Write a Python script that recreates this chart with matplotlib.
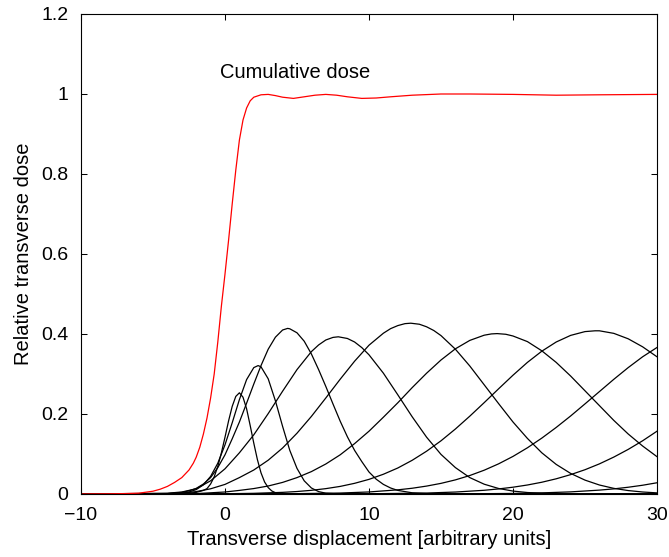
import matplotlib
matplotlib.use('Agg')
import matplotlib.pyplot as plt

plt.rcParams['font.family'] = ['Liberation Sans', 'DejaVu Sans']

# black curves: single-beam transverse dose profiles
c1_x = [-10, -4, -2.5, -2, -1.5, -1.25, -1, -0.75, -0.5, -0.25, 0, 0.25, 0.5, 0.75, 1, 1.25, 1.5, 1.75,
        2, 2.25, 2.5, 2.75, 3, 3.25, 3.5, 4, 30]
c1_y = [0, 0, 0.002, 0.004, 0.009, 0.0135, 0.025, 0.043, 0.069, 0.103, 0.142, 0.183, 0.219, 0.244, 0.253,
        0.242, 0.213, 0.171, 0.127, 0.086, 0.053, 0.030, 0.016, 0.0076, 0.0033, 0.0004, 0]

c2_x = [-10, -4, -3, -2.5, -2, -1.5, -1, -0.5, 0, 0.5, 1, 1.5, 2, 2.3, 2.5, 3, 3.5, 4, 4.5, 5, 5.5, 6,
        6.5, 7, 8, 30]
c2_y = [0, 0, 0.002, 0.005, 0.011, 0.023, 0.044, 0.077, 0.123, 0.178, 0.236, 0.286, 0.316, 0.321, 0.318,
        0.288, 0.233, 0.169, 0.109, 0.064, 0.033, 0.015, 0.006, 0.002, 0, 0]

c3_x = [-10, -4, -3, -2.5, -2, -1.5, -1, -0.5, 0, 0.5, 1, 1.5, 2, 2.5, 3, 3.5, 4, 4.35, 4.5, 5, 5.5, 6,
        6.5, 7, 7.5, 8, 8.5, 9, 9.5, 10, 10.5, 11, 11.5, 12, 13, 14, 15, 30]
c3_y = [0, 0.001, 0.004, 0.008, 0.014, 0.025, 0.041, 0.066, 0.098, 0.138, 0.180, 0.227, 0.275, 0.321,
        0.362, 0.392, 0.410, 0.414, 0.413, 0.403, 0.382, 0.350, 0.311, 0.269, 0.225, 0.182, 0.143, 0.109,
        0.081, 0.055, 0.037, 0.024, 0.015, 0.009, 0.003, 0.001, 0, 0]

c4_x = [-10, -4, -3, -2, -1, 0, 1, 2, 3, 4, 5, 6, 6.5, 7, 7.5, 7.87, 8.5, 9, 9.5, 10, 11, 12, 13, 14,
        15, 16, 17, 18, 19, 20, 21, 22, 24, 30]
c4_y = [0, 0.002, 0.005, 0.013, 0.033, 0.063, 0.103, 0.148, 0.201, 0.257, 0.311, 0.356, 0.3726, 0.385,
        0.3915, 0.393, 0.3888, 0.380, 0.366, 0.348, 0.302, 0.248, 0.193, 0.142, 0.099, 0.066, 0.041,
        0.0245, 0.0138, 0.0073, 0.0037, 0.0018, 0, 0]

c5_x = [-10, -4, -3, -2, -1, 0, 1, 2, 3, 4, 5, 6, 7, 8, 9, 10, 11, 11.5, 12, 12.5, 12.9, 13.5, 14, 14.5,
        15, 16, 17, 18, 19, 20, 21, 22, 23, 24, 25, 26, 27, 28, 29, 30]
c5_y = [0, 0.001, 0.002, 0.006, 0.013, 0.024, 0.041, 0.060, 0.0845, 0.115, 0.152, 0.194, 0.240, 0.287,
        0.332, 0.372, 0.402, 0.4134, 0.421, 0.4259, 0.427, 0.4244, 0.418, 0.4087, 0.396, 0.362, 0.320,
        0.273, 0.226, 0.180, 0.139, 0.103, 0.074, 0.0515, 0.0347, 0.0225, 0.0141, 0.0086, 0.005, 0.0028]

c6_x = [-10, -4, -2, 0, 1, 2, 3, 4, 5, 6, 7, 8, 9, 10, 11, 12, 13, 14, 15, 16, 17, 18, 18.5, 18.9,
        19.5, 20, 21, 22, 23, 24, 25, 26, 27, 28, 29, 30]
c6_y = [0, 0, 0.001, 0.005, 0.009, 0.0136, 0.020, 0.029, 0.041, 0.056, 0.075, 0.098, 0.126, 0.157,
        0.192, 0.228, 0.266, 0.302, 0.335, 0.363, 0.384, 0.397, 0.4002, 0.401, 0.3993, 0.395, 0.381,
        0.358, 0.329, 0.295, 0.258, 0.221, 0.184, 0.150, 0.120, 0.0933]

c7_x = [-10, -2, 0, 2, 4, 5, 6, 7, 8, 9, 10, 11, 12, 13, 14, 15, 16, 17, 18, 19, 20, 21, 22, 23, 24,
        25, 25.7, 26, 27, 28, 29, 30]
c7_y = [0, 0.0002, 0.0006, 0.0017, 0.0041, 0.0062, 0.0092, 0.0134, 0.019, 0.0267, 0.0366, 0.0494, 0.065,
        0.0843, 0.107, 0.133, 0.1625, 0.1946, 0.2284, 0.263, 0.297, 0.329, 0.357, 0.380, 0.3965, 0.406,
        0.408, 0.408, 0.4016, 0.388, 0.368, 0.343]

c8_x = [-10, 4, 8, 10, 12, 13, 14, 15, 16, 17, 18, 19, 20, 21, 22, 23, 24, 25, 26, 27, 28, 29, 30]
c8_y = [0, 0.0004, 0.0024, 0.0051, 0.0104, 0.0144, 0.0198, 0.0266, 0.0353, 0.0462, 0.0595, 0.0754,
        0.094, 0.1155, 0.1397, 0.1664, 0.195, 0.2253, 0.256, 0.2867, 0.316, 0.343, 0.3663]

c9_x = [-10, 10, 14, 16, 18, 19, 20, 21, 22, 23, 24, 25, 26, 27, 28, 29, 30]
c9_y = [0, 0.0005, 0.0024, 0.0049, 0.0093, 0.0127, 0.017, 0.0225, 0.0294, 0.038, 0.0484, 0.0607,
        0.0753, 0.0923, 0.1115, 0.133, 0.157]

c10_x = [-10, 16, 20, 22, 24, 26, 27, 28, 29, 30]
c10_y = [0, 0.0003, 0.0014, 0.0028, 0.0053, 0.0097, 0.0128, 0.0169, 0.0219, 0.0281]

# red curve: cumulative dose
cum_x = [-10, -8, -7, -6, -5, -4.5, -4, -3.5, -3, -2.5, -2.2, -2, -1.75, -1.5, -1.25, -1, -0.75, -0.5,
         -0.25, 0, 0.25, 0.5, 0.75, 1, 1.25, 1.5, 1.75, 2, 2.5, 3, 3.5, 4, 4.75, 5.5, 6.25, 7, 7.75,
         8.5, 9.5, 10.5, 11.5, 13, 15, 17, 20, 23, 26, 30]
cum_y = [0, 0.0005, 0.001, 0.002, 0.007, 0.012, 0.019, 0.029, 0.041, 0.060, 0.077, 0.092, 0.117, 0.15,
         0.19, 0.24, 0.30, 0.38, 0.47, 0.55, 0.635, 0.725, 0.81, 0.885, 0.935, 0.965, 0.983, 0.992,
         0.998, 0.999, 0.996, 0.992, 0.989, 0.993, 0.997, 0.999, 0.997, 0.993, 0.989, 0.990, 0.993,
         0.997, 1.0, 1.0, 0.999, 0.997, 0.998, 0.999]

x_ticks = [-10, 0, 10, 20, 30]
y_ticks = [0, 0.2, 0.4, 0.6, 0.8, 1, 1.2]
y_ticklabels = ['0', '0.2', '0.4', '0.6', '0.8', '1', '1.2']

fig = plt.figure(figsize=(6.69, 5.57), dpi=100)
ax = fig.add_axes([81 / 669, 63 / 557, 576 / 669, 480 / 557])

profiles = [(c1_x, c1_y), (c2_x, c2_y), (c3_x, c3_y), (c4_x, c4_y), (c5_x, c5_y),
            (c6_x, c6_y), (c7_x, c7_y), (c8_x, c8_y), (c9_x, c9_y), (c10_x, c10_y)]
for px, py in profiles:
    ax.plot(px, py, color='black', lw=0.9)
ax.plot(cum_x, cum_y, color='red', lw=0.9)

ax.text(-0.35, 1.039, 'Cumulative dose', fontsize=14.5, ha='left', va='baseline')

ax.set_xlim(-10, 30)
ax.set_ylim(0, 1.2)
ax.set_xticks(x_ticks)
ax.set_yticks(y_ticks)
ax.set_yticklabels(y_ticklabels)
ax.tick_params(direction='in', top=True, right=True, length=4, width=0.75,
               labelsize=14, pad=9)
for s in ax.spines.values():
    s.set_linewidth(0.8)

ax.set_xlabel('Transverse displacement [arbitrary units]', fontsize=14.5, labelpad=5)
ax.set_ylabel('Relative transverse dose', fontsize=14.5, labelpad=6)

fig.savefig('out.png', dpi=100)
